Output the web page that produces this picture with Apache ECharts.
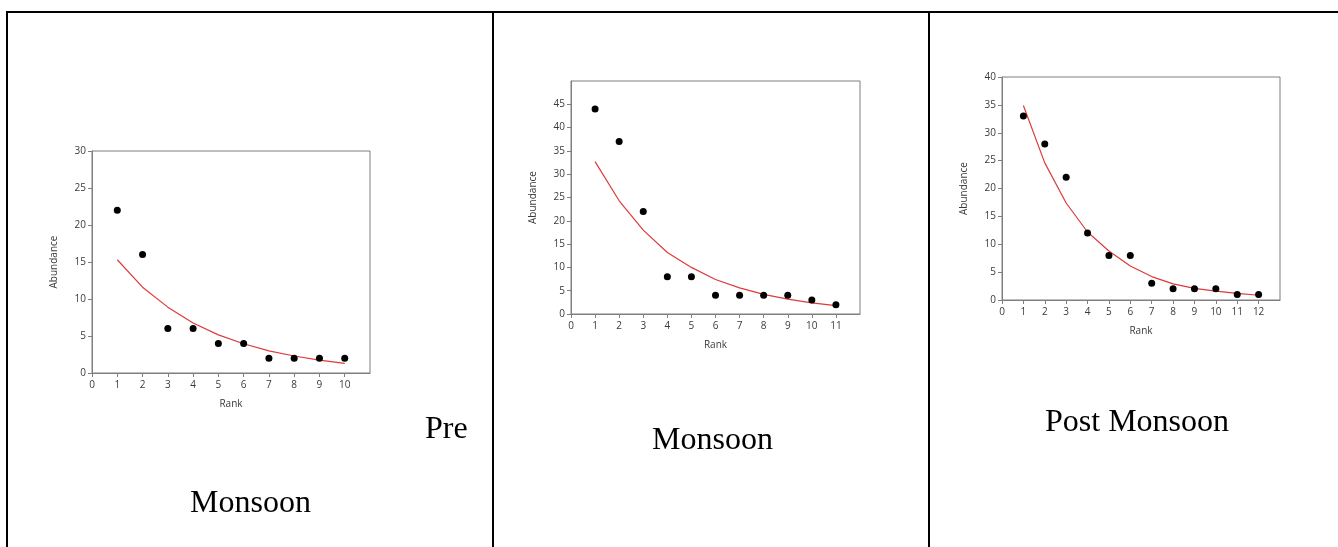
<!DOCTYPE html>
<html>
<head>
<meta charset="utf-8">
<script src="https://cdn.jsdelivr.net/npm/echarts@6/dist/echarts.min.js"></script>
<style>
html,body{margin:0;padding:0;background:#fff;}
#c{width:1338px;height:547px;}
</style>
</head>
<body>
<div id="c"></div>
<script>
// Pre Monsoon
const preRank = [1,2,3,4,5,6,7,8,9,10];
const preAbundance = [22,16,6,6,4,4,2,2,2,2];
const preFit = [15.3,11.6,8.9,6.75,5.15,3.95,3.0,2.3,1.75,1.3];
// Monsoon
const monRank = [1,2,3,4,5,6,7,8,9,10,11];
const monAbundance = [44,37,22,8,8,4,4,4,4,3,2];
const monFit = [32.7,24.3,18.0,13.2,10.0,7.4,5.6,4.2,3.2,2.4,1.8];
// Post Monsoon
const postRank = [1,2,3,4,5,6,7,8,9,10,11,12];
const postAbundance = [33,28,22,12,8,8,3,2,2,2,1,1];
const postFit = [34.9,24.6,17.4,12.2,8.8,6.1,4.2,2.9,2.1,1.6,1.2,0.85];

const panelLabels = ['Pre', 'Monsoon', 'Monsoon', 'Post Monsoon'];
const xName = 'Rank';
const yName = 'Abundance';

const pair = (xs, ys) => xs.map((x, i) => [x, ys[i]]);

const axisColor = '#7f7f7f';
const labelFont = {fontFamily: 'Open Sans', fontSize: 10, color: '#3a3a3a'};

const grids = [
  {left: 92, top: 151, width: 278, height: 222},
  {left: 571, top: 81, width: 289, height: 233},
  {left: 1002, top: 77, width: 278, height: 223}
];
const xMax = [11, 12, 13];
const yCfg = [{max: 30, showMax: true}, {max: 50, showMax: false}, {max: 40, showMax: true}];

const xAxes = grids.map((g, i) => ({
  type: 'value', gridIndex: i, min: 0, max: xMax[i], interval: 1,
  name: xName, nameLocation: 'middle', nameGap: 26,
  nameTextStyle: {fontFamily: 'Open Sans', fontSize: 10, color: '#3a3a3a'},
  axisLine: {show: true, onZero: false, lineStyle: {color: axisColor, width: 1}},
  axisTick: {show: true, length: 4, lineStyle: {color: axisColor}},
  axisLabel: Object.assign({margin: 7, showMaxLabel: false}, labelFont),
  splitLine: {show: false}
}));
const yAxes = grids.map((g, i) => ({
  type: 'value', gridIndex: i, min: 0, max: yCfg[i].max, interval: 5,
  name: yName, nameLocation: 'middle', nameGap: 33, nameRotate: 90,
  nameTextStyle: {fontFamily: 'Open Sans', fontSize: 10, color: '#3a3a3a'},
  axisLine: {show: true, onZero: false, lineStyle: {color: axisColor, width: 1}},
  axisTick: {show: true, length: 4, lineStyle: {color: axisColor}},
  axisLabel: Object.assign({margin: 6, showMaxLabel: yCfg[i].showMax}, labelFont),
  splitLine: {show: false}
}));

const sets = [
  [preRank, preAbundance, preFit],
  [monRank, monAbundance, monFit],
  [postRank, postAbundance, postFit]
];
const series = [];
sets.forEach((s, i) => {
  series.push({
    type: 'line', xAxisIndex: i, yAxisIndex: i, data: pair(s[0], s[2]),
    showSymbol: false, symbol: 'none', smooth: false,
    lineStyle: {color: '#dd3b3b', width: 1.2}, silent: true, z: 2
  });
  series.push({
    type: 'scatter', xAxisIndex: i, yAxisIndex: i, data: pair(s[0], s[1]),
    symbol: 'circle', symbolSize: 7, itemStyle: {color: '#000', opacity: 1}, silent: true, z: 3
  });
});

const lineStyle = {stroke: '#000', lineWidth: 2};
const textStyle = (t, x, y) => ({
  type: 'text', left: x, top: y - 12,
  style: {text: t, font: '32px "Liberation Serif"', fill: '#000'}
});

const graphic = [
  {type: 'line', shape: {x1: 6, y1: 12, x2: 1338, y2: 12}, style: lineStyle},
  {type: 'line', shape: {x1: 7, y1: 11, x2: 7, y2: 547}, style: lineStyle},
  {type: 'line', shape: {x1: 493, y1: 11, x2: 493, y2: 547}, style: lineStyle},
  {type: 'line', shape: {x1: 929, y1: 11, x2: 929, y2: 547}, style: lineStyle},
  textStyle(panelLabels[0], 425, 426),
  textStyle(panelLabels[1], 190, 500),
  textStyle(panelLabels[2], 652, 437),
  textStyle(panelLabels[3], 1045, 419)
];

const chart = echarts.init(document.getElementById('c'), null, {renderer: 'canvas'});
chart.setOption({
  animation: false,
  backgroundColor: '#fff',
  grid: grids.map(g => Object.assign({show: true, borderColor: axisColor, borderWidth: 1, backgroundColor: 'transparent'}, g)),
  xAxis: xAxes,
  yAxis: yAxes,
  series: series,
  graphic: graphic
});
</script>
</body>
</html>
